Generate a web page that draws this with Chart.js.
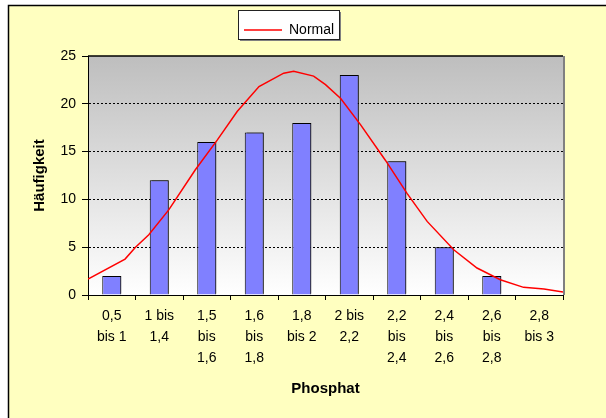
<!DOCTYPE html>
<html>
<head>
<meta charset="utf-8">
<script src="https://cdn.jsdelivr.net/npm/chart.js@4/dist/chart.umd.min.js"></script>
<style>
    html, body { margin: 0; padding: 0; background: #fff; }
    #wrap { width: 606px; height: 418px; position: relative; }
</style>
</head>
<body>
<div id="wrap"><canvas id="chart" width="606" height="418"></canvas></div>
<script>
// categories (Phosphat classes)
var categories = [
    ["0,5", "bis 1"],
    ["1 bis", "1,4"],
    ["1,5", "bis", "1,6"],
    ["1,6", "bis", "1,8"],
    ["1,8", "bis 2"],
    ["2 bis", "2,2"],
    ["2,2", "bis", "2,4"],
    ["2,4", "bis", "2,6"],
    ["2,6", "bis", "2,8"],
    ["2,8", "bis 3"],
];

// bars: Häufigkeit
var counts = [2, 12, 16, 17, 18, 23, 14, 5, 2, 0];

// normal curve, x in class units (0 = left edge, 10 = right edge)
var normalX = [0, 0.78, 1.0, 1.28, 1.7, 2.26, 2.72, 3.14, 3.6, 4.12, 4.33, 4.75, 5.0, 5.32, 5.74, 6.26, 6.72, 7.14, 7.7, 8.19, 8.68, 9.17, 9.6, 10];
var normalY = [1.67, 3.76, 5.0, 6.3, 8.9, 13.1, 16.2, 19.2, 21.8, 23.2, 23.4, 22.9, 22.0, 20.55, 17.8, 14.1, 10.6, 7.7, 4.73, 2.82, 1.6, 0.8, 0.62, 0.31];

var yTicks = [0, 5, 10, 15, 20, 25];

var normalPoints = normalX.map(function (x, i) {
    return { x: x, y: normalY[i] };
});

Chart.defaults.font.family = "'Liberation Sans', Arial, sans-serif";
Chart.defaults.font.size = 14;
Chart.defaults.color = "#000";

// backgrounds, frame, legend box
var decoPlugin = {
    id: "deco",
    beforeDraw: function (chart) {
        var ctx = chart.ctx;
        var a = chart.chartArea;
        ctx.save();
        ctx.fillStyle = "#fff";
        ctx.fillRect(0, 0, chart.width, chart.height);
        ctx.fillStyle = "#FFFFC0";
        ctx.fillRect(8, 5, chart.width - 8, chart.height - 5);
        ctx.strokeStyle = "#000";
        ctx.lineWidth = 1.5;
        ctx.beginPath();
        ctx.moveTo(8.5, chart.height);
        ctx.lineTo(8.5, 5.5);
        ctx.lineTo(chart.width, 5.5);
        ctx.stroke();

        var grad = ctx.createLinearGradient(0, a.top, 0, a.bottom);
        grad.addColorStop(0, "#BEBEBE");
        grad.addColorStop(1, "#FFFFFF");
        ctx.fillStyle = grad;
        ctx.fillRect(a.left, a.top, a.right - a.left, a.bottom - a.top);

        // legend box
        ctx.fillStyle = "#808080";
        ctx.fillRect(240, 12, 101, 29);
        ctx.fillStyle = "#fff";
        ctx.fillRect(238.5, 10.5, 101, 29);
        ctx.strokeStyle = "#222";
        ctx.lineWidth = 1;
        ctx.strokeRect(238.5, 10.5, 101, 29);
        ctx.restore();
    },
    beforeDatasetsDraw: function (chart) {
        var ctx = chart.ctx;
        var a = chart.chartArea;
        ctx.save();
        ctx.strokeStyle = "#808080";
        ctx.lineWidth = 2;
        ctx.beginPath();
        ctx.moveTo(a.right + 1, a.top);
        ctx.lineTo(a.right + 1, a.bottom);
        ctx.stroke();
        ctx.strokeStyle = "#000";
        ctx.lineWidth = 1.5;
        ctx.beginPath();
        ctx.moveTo(a.left, a.top);
        ctx.lineTo(a.right, a.top);
        ctx.stroke();
        ctx.restore();
    },
    // soft shadow on the bars
    beforeDatasetDraw: function (chart, args) {
        if (args.index !== 0) return;
        var ctx = chart.ctx;
        ctx.save();
        ctx.shadowColor = "rgba(0,0,0,0.45)";
        ctx.shadowOffsetX = 2;
        ctx.shadowOffsetY = -1;
        ctx.shadowBlur = 0;
    },
    afterDatasetDraw: function (chart, args) {
        if (args.index !== 0) return;
        chart.ctx.restore();
    },
    afterLayout: function (chart) {
        var lg = chart.legend;
        lg.left = 244 - 6;
        lg.right = 339;
        lg.top = 17;
        lg.bottom = 39;
    },
};

var chartElem = document.querySelector("#chart");
var chart = new Chart(chartElem, {
    type: "bar",
    data: {
        labels: categories,
        datasets: [
            {
                type: "bar",
                label: "Häufigkeit",
                data: counts,
                backgroundColor: "#8080FF",
                borderColor: "#000",
                borderWidth: 1,
                barPercentage: 0.4,
                categoryPercentage: 1,
                grouped: false,
                xAxisID: "x",
                order: 2,
            },
            {
                type: "line",
                label: "Normal",
                data: normalPoints,
                borderColor: "#FF0000",
                borderWidth: 1.5,
                pointRadius: 0,
                pointStyle: "line",
                tension: 0,
                fill: false,
                xAxisID: "x2",
                order: 1,
            },
        ],
    },
    options: {
        responsive: false,
        animation: false,
        layout: {
            padding: { left: 8, right: 43, top: 56, bottom: 0 },
        },
        scales: {
            x: {
                type: "category",
                offset: true,
                grid: {
                    offset: true,
                    drawOnChartArea: false,
                    drawTicks: true,
                    tickLength: 5,
                    tickColor: "#000",
                },
                border: { display: true, color: "#000", width: 1 },
                ticks: {
                    autoSkip: false,
                    maxRotation: 0,
                    minRotation: 0,
                    padding: 6,
                    font: { size: 14, lineHeight: 1.5 },
                },
                title: {
                    display: true,
                    text: "Phosphat",
                    font: { size: 15, weight: "bold" },
                    padding: { top: 0, bottom: 20 },
                },
                afterFit: function (scale) {
                    scale.height = 123;
                },
            },
            x2: {
                type: "linear",
                display: false,
                offset: false,
                grid: { offset: false },
                min: 0,
                max: 10,
            },
            y: {
                min: 0,
                max: 25,
                afterBuildTicks: function (scale) {
                    scale.ticks = yTicks.map(function (v) {
                        return { value: v };
                    });
                },
                grid: {
                    color: function (ctx) {
                        var v = ctx.tick ? ctx.tick.value : 0;
                        return v === 0 || v === 25 ? "rgba(0,0,0,0)" : "#000";
                    },
                    tickColor: "#000",
                    tickLength: 6,
                    tickBorderDash: [],
                },
                border: { display: true, color: "#000", width: 1, dash: [2, 2] },
                ticks: {
                    padding: 6,
                    font: { size: 14 },
                },
                title: {
                    display: true,
                    text: "Häufigkeit",
                    font: { size: 15, weight: "bold" },
                    padding: { top: 23, bottom: 0 },
                },
                afterFit: function (scale) {
                    scale.width = 80;
                },
            },
        },
        plugins: {
            legend: {
                display: true,
                position: "chartArea",
                align: "start",
                labels: {
                    usePointStyle: true,
                    pointStyle: "line",
                    pointStyleWidth: 38,
                    padding: 6,
                    font: { size: 14 },
                    filter: function (item) {
                        return item.datasetIndex === 1;
                    },
                },
            },
            tooltip: { enabled: false },
        },
    },
    plugins: [decoPlugin],
});
</script>
</body>
</html>
